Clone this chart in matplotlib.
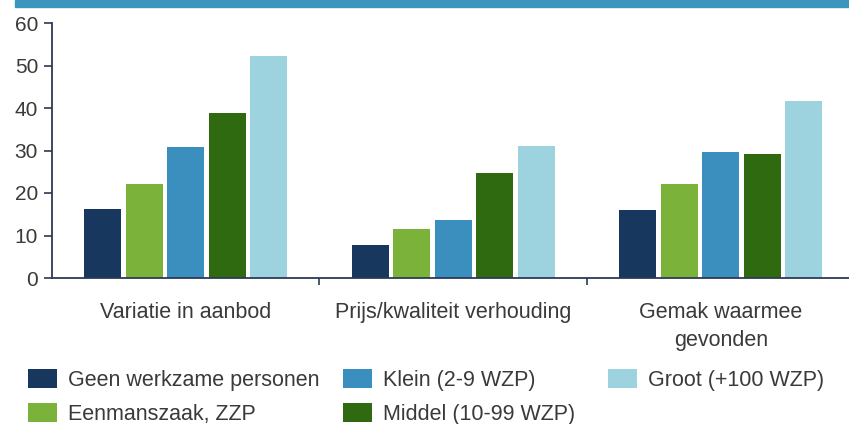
import matplotlib
matplotlib.use("Agg")
import matplotlib.pyplot as plt
from matplotlib.patches import Rectangle
import numpy as np

plt.rcParams['font.family'] = ['Liberation Sans', 'DejaVu Sans']

categories = ["Variatie in aanbod", "Prijs/kwaliteit verhouding", "Gemak waarmee\ngevonden"]
series_names = ["Geen werkzame personen", "Eenmanszaak, ZZP", "Klein (2-9 WZP)",
                "Middel (10-99 WZP)", "Groot (+100 WZP)"]
geen = [16.3, 7.8, 16.0]
eenmans = [22.2, 11.6, 22.2]
klein = [30.9, 13.7, 29.6]
middel = [38.9, 24.6, 29.1]
groot = [52.2, 31.1, 41.7]
yticks = [0, 10, 20, 30, 40, 50, 60]

colors = ["#17375e", "#7ab23a", "#3b8fbf", "#2f6a11", "#9dd3df"]
series = [geen, eenmans, klein, middel, groot]

W, H = 849, 424
fig = plt.figure(figsize=(W / 100, H / 100), dpi=100)
fig.patches.append(Rectangle((15 / W, 1 - 7 / H), 1, 7 / H, transform=fig.transFigure,
                             color="#3a96bf", zorder=0))

ax = fig.add_axes([52 / W, 1 - 278 / H, 1 - 52 / W, (278 - 23) / H])
x = np.arange(len(categories))
step = 0.155
width = 0.138
handles = []
for i, (vals, c, name) in enumerate(zip(series, colors, series_names)):
    b = ax.bar(x + (i - 2) * step, vals, width=width, color=c, label=name, zorder=2)
    handles.append(b)

axc = "#2b3a55"
txtc = "#3a3a3a"
ax.set_xlim(-0.5, (W - 52) / 267.5 - 0.5)
ax.set_ylim(0, 60)
ax.set_yticks(yticks)
ax.set_xticks(x)
ax.set_xticklabels(categories, fontsize=15.5, color=txtc, linespacing=1.45)
ax.set_xticks([0.5, 1.5], minor=True)
ax.tick_params(axis='x', which='major', length=0, pad=17)
ax.tick_params(axis='x', which='minor', length=5, width=1.2, color=axc, direction='out')
ax.tick_params(axis='y', length=6, width=1.2, color=axc, labelsize=15, labelcolor=txtc, pad=4)
for s in ['top', 'right']:
    ax.spines[s].set_visible(False)
for s in ['left', 'bottom']:
    ax.spines[s].set_color(axc)
    ax.spines[s].set_linewidth(1.3)

col_groups = [([0, 1], 28), ([2, 3], 343), ([4], 608)]
for idxs, xpx in col_groups:
    leg = fig.legend([handles[i] for i in idxs], [series_names[i] for i in idxs],
                     loc='upper left', bbox_to_anchor=(xpx / W, 1 - 369 / H), ncol=1,
                     frameon=False, fontsize=15.5, handlelength=1.35, handleheight=1.0,
                     handletextpad=0.5, labelspacing=0.55, borderpad=0, borderaxespad=0,
                     labelcolor=txtc)

fig.savefig("out.png", dpi=100)
